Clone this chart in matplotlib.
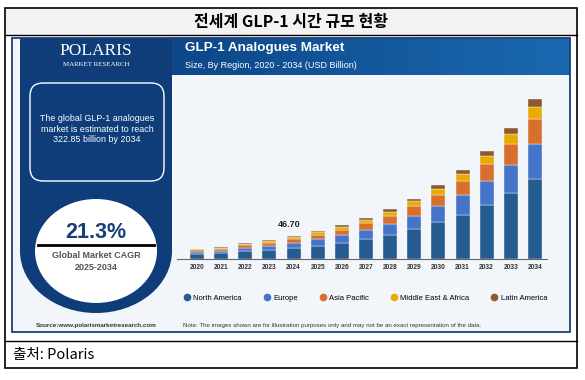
import matplotlib
matplotlib.use('Agg')
import matplotlib.pyplot as plt
import numpy as np
from matplotlib.patches import Rectangle, Ellipse, FancyBboxPatch
from matplotlib.lines import Line2D

plt.rcParams['font.family'] = ['Liberation Sans', 'DejaVu Sans']

# data (USD Billion)
years = ['2020', '2021', '2022', '2023', '2024', '2025', '2026', '2027',
         '2028', '2029', '2030', '2031', '2032', '2033', '2034']
north_america = [10, 12, 16, 18.9, 22.6, 27, 33, 41, 49, 60, 74, 89.5, 109, 133, 161.6]
europe = [4.6, 5, 7, 8, 9.4, 12.8, 15, 18, 22, 27, 32, 39.7, 48, 57, 71.3]
asia_pacific = [2.8, 3.5, 4.5, 5.4, 8, 8, 11.4, 12.8, 16, 19, 24, 27.6, 34, 42, 50.5]
mea = [1.8, 2.4, 3, 4, 4.7, 6, 6, 7.4, 8.8, 10, 12, 14.8, 17.5, 20, 23.6]
latin_america = [0.8, 1, 1.3, 1.5, 2, 3.4, 3.4, 3.4, 4.7, 6, 6.5, 8.7, 10, 12, 15.85]
series_names = ['North America', 'Europe', 'Asia Pacific', 'Middle East & Africa', 'Latin America']
colors = ['#245b90', '#4674c8', '#d86f2c', '#e6ad00', '#8b5a2e']
label_year = '2024'
label_text = '46.70'

W, H = 585, 380
fig = plt.figure(figsize=(W / 100, H / 100), dpi=100)
fig.patch.set_facecolor('white')

# background axes in pixel coordinates
bg = fig.add_axes([0, 0, 1, 1])
bg.set_xlim(0, W)
bg.set_ylim(H, 0)
bg.axis('off')

# outer table
bg.add_patch(Rectangle((5, 8), 572, 27, facecolor='#f2f2f2', edgecolor='none'))
bg.add_patch(Rectangle((5, 8), 572, 360, facecolor='none', edgecolor='black', lw=1.2))
bg.plot([5, 577], [35, 35], color='black', lw=1.0)
bg.plot([5, 577], [341, 341], color='black', lw=1.0)
bg.text(291, 21.5, '전세계 GLP-1 시간 규모 현황', ha='center', va='center', fontsize=11.5,
        fontweight='bold', family=['Noto Sans CJK KR', 'DejaVu Sans'])
bg.text(13, 354.5, '출처: Polaris', ha='left', va='center', fontsize=10.5,
        family=['Noto Sans CJK KR', 'DejaVu Sans'])

# infographic panels
bg.add_patch(Rectangle((12, 38), 558, 294, facecolor='#f2f6fa', edgecolor='none'))
navy = '#0e3d7a'
bg.add_patch(Rectangle((20, 38), 152, 213, facecolor=navy, edgecolor='none'))
bg.add_patch(Ellipse((96, 251), 152, 124, facecolor=navy, edgecolor='none'))
bg.add_patch(Ellipse((96, 251), 122, 104, facecolor='white', edgecolor='none'))

grad = np.linspace(0, 1, 256).reshape(1, -1)
cmap = matplotlib.colors.LinearSegmentedColormap.from_list('hdr', ['#0d4788', '#1a69b0'])
bg.imshow(grad, cmap=cmap, aspect='auto', extent=(172, 570, 75, 38), origin='upper', zorder=1)
bg.set_xlim(0, W)
bg.set_ylim(H, 0)
bg.add_patch(Rectangle((12, 38), 558, 294, facecolor='none', edgecolor='#1d3f78', lw=1.3, zorder=3))

# logo and left panel text
bg.text(96, 51, 'POLARIS', ha='center', va='center', color='white', fontsize=12.5,
        family='Liberation Serif')
bg.text(96, 65, 'MARKET RESEARCH', ha='center', va='center', color='white', fontsize=5,
        family='Liberation Serif')
bg.add_patch(FancyBboxPatch((30, 83), 134, 98, boxstyle='round,pad=0,rounding_size=13',
                            facecolor='none', edgecolor='white', lw=1.0))
bg.text(97, 129, 'The global GLP-1 analogues\nmarket is estimated to reach\n322.85 billion by 2034',
        ha='center', va='center', color='white', fontsize=6.4, linespacing=1.15)
bg.text(96, 232, '21.3%', ha='center', va='center', color='#173e78', fontsize=15.5, fontweight='bold')
bg.plot([38, 154], [245, 245], color='black', lw=2)
bg.text(96, 256, 'Global Market CAGR', ha='center', va='center', color='#555555', fontsize=6.5,
        fontweight='bold')
bg.text(96, 268, '2025-2034', ha='center', va='center', color='#555555', fontsize=6.5,
        fontweight='bold')
bg.text(96, 325, 'Source:www.polarismarketresearch.com', ha='center', va='center',
        color='#333333', fontsize=4.5, fontweight='bold')

# header text
bg.text(185, 48, 'GLP-1 Analogues Market', ha='left', va='center', color='white',
        fontsize=9.7, fontweight='bold', zorder=4)
bg.text(185, 65, 'Size, By Region, 2020 - 2034 (USD Billion)', ha='left', va='center',
        color='white', fontsize=6.5, zorder=4)
bg.text(183, 325, 'Note: The images shown are for illustration purposes only and may not be an '
        'exact representation of the data.', ha='left', va='center', color='#333333', fontsize=4.4)

# bar chart
ax = fig.add_axes([177 / W, (H - 259) / H, (547 - 177) / W, 174 / H])
ax.patch.set_alpha(0)
x = np.arange(len(years))
bottom = np.zeros(len(years))
for vals, name, c in zip([north_america, europe, asia_pacific, mea, latin_america], series_names, colors):
    ax.bar(x, vals, width=0.58, bottom=bottom, color=c, edgecolor='#eef3f8', linewidth=0.3, label=name)
    bottom = bottom + np.array(vals)

i = years.index(label_year)
ax.annotate(label_text, (x[i], bottom[i]), xytext=(-3, 8.5), textcoords='offset points',
            ha='center', va='center', fontsize=6.5, fontweight='bold', color='#222222')

ax.set_xlim(-0.83, 14.5)
ax.set_ylim(0, 351)
ax.set_xticks(x)
ax.set_xticklabels(years, fontsize=4.8, fontweight='bold', color='#333333')
ax.tick_params(axis='x', length=0, pad=3.5)
ax.set_yticks([])
for s in ['top', 'right', 'left']:
    ax.spines[s].set_visible(False)
ax.spines['bottom'].set_color('#666666')
ax.spines['bottom'].set_linewidth(0.8)

handles = [Line2D([], [], marker='o', linestyle='none', markersize=4.5, color=c) for c in colors]
fig.legend(handles, series_names, loc='center left', bbox_to_anchor=(184 / W, 1 - 298 / H),
           ncol=5, frameon=False, fontsize=5.5, handlelength=0.8, handletextpad=0.4,
           columnspacing=2.9, borderpad=0, borderaxespad=0)

fig.savefig('out.png', dpi=100)
